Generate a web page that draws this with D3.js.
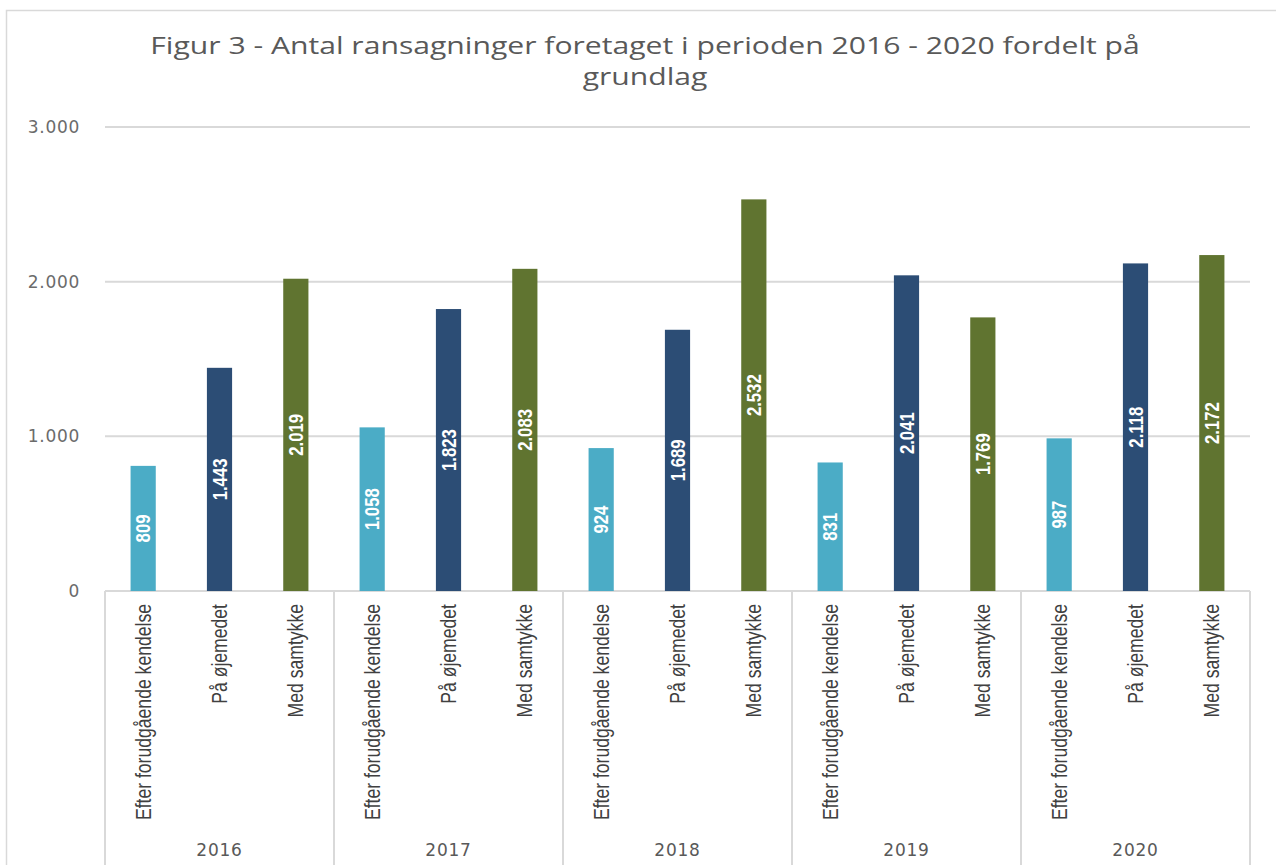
<!DOCTYPE html>
<html>
<head>
<meta charset="utf-8">
<script src="https://cdn.jsdelivr.net/npm/d3@7"></script>
<style>
  body { margin: 0; background: #fff; }
  #vis { width: 1276px; height: 865px; }
  .narrow { font-family: "Liberation Sans Narrow", "Liberation Sans", Arial, sans-serif; }
</style>
</head>
<body>
<div id="vis"></div>
<script>
var years = ['2016', '2017', '2018', '2019', '2020'];
var grounds = ['Efter forudgående kendelse', 'På øjemedet', 'Med samtykke'];
var kendelse = [809, 1058, 924, 831, 987];
var ojemedet = [1443, 1823, 1689, 2041, 2118];
var samtykke = [2019, 2083, 2532, 1769, 2172];
var yTicks = [0, 1000, 2000, 3000];
var colours = ['#4bacc6', '#2c4d75', '#607430'];

var width = 1276, height = 865;

var svg = d3.select('#vis')
  .append('svg')
  .attr('width', width)
  .attr('height', height);

// chart border
svg.append('rect')
  .attr('x', 6.5).attr('y', 10.5)
  .attr('width', 1280).attr('height', 880)
  .attr('fill', 'none')
  .attr('stroke', '#d9d9d9')
  .attr('stroke-width', 1.5);

var x0 = 105, x1 = 1250, yBase = 591, yTop = 127;

var x_scale = d3.scaleBand()
  .domain(years)
  .range([x0, x1])
  .padding(0);

var x_inner = d3.scaleBand()
  .domain(grounds)
  .range([0, x_scale.bandwidth()])
  .paddingInner(0.67)
  .paddingOuter(0.335);

var y_scale = d3.scaleLinear()
  .domain([0, 3000])
  .range([yBase, yTop]);

var fmt = d3.formatLocale({ decimal: ',', thousands: '.', grouping: [3], currency: ['', ' kr.'] }).format(',d');

// gridlines
svg.append('g')
  .selectAll('line')
  .data(yTicks.filter(function(d) { return d > 0; }))
  .enter()
  .append('line')
  .attr('x1', x0).attr('x2', x1)
  .attr('y1', function(d) { return y_scale(d); })
  .attr('y2', function(d) { return y_scale(d); })
  .attr('stroke', '#d9d9d9')
  .attr('stroke-width', 2);

// y tick labels
svg.append('g')
  .selectAll('text')
  .data(yTicks)
  .enter()
  .append('text')
  .attr('x', 80)
  .attr('y', function(d) { return y_scale(d); })
  .attr('dy', '0.35em')
  .attr('text-anchor', 'end')
  .attr('fill', '#6b6b6b')
  .style('font-family', 'DejaVu Sans, sans-serif')
  .style('font-size', '17px')
  .style('letter-spacing', '0.7px')
  .text(function(d) { return fmt(d); });

// category axis
var axisG = svg.append('g');
axisG.append('line')
  .attr('x1', x0).attr('x2', x1)
  .attr('y1', yBase).attr('y2', yBase)
  .attr('stroke', '#d9d9d9').attr('stroke-width', 2);

var bounds = years.map(function(y) { return x_scale(y); }).concat([x1]);
axisG.selectAll('.div')
  .data(bounds)
  .enter()
  .append('line')
  .attr('class', 'div')
  .attr('x1', function(d) { return d; })
  .attr('x2', function(d) { return d; })
  .attr('y1', yBase).attr('y2', 870)
  .attr('stroke', '#d9d9d9').attr('stroke-width', 2);

var rows = [];
years.forEach(function(y, i) {
  rows.push({ year: y, ground: grounds[0], value: kendelse[i], c: 0 });
  rows.push({ year: y, ground: grounds[1], value: ojemedet[i], c: 1 });
  rows.push({ year: y, ground: grounds[2], value: samtykke[i], c: 2 });
});

function cx(d) {
  return x_scale(d.year) + x_inner(d.ground) + x_inner.bandwidth() / 2;
}

// bars
svg.append('g')
  .selectAll('.bar')
  .data(rows)
  .enter()
  .append('rect')
  .attr('class', 'bar')
  .attr('x', function(d) { return x_scale(d.year) + x_inner(d.ground); })
  .attr('width', x_inner.bandwidth())
  .attr('y', function(d) { return y_scale(d.value); })
  .attr('height', function(d) { return yBase - y_scale(d.value); })
  .attr('fill', function(d) { return colours[d.c]; });

// value labels
svg.append('g')
  .selectAll('text')
  .data(rows)
  .enter()
  .append('text')
  .attr('class', 'narrow')
  .attr('transform', function(d) {
    return 'translate(' + cx(d) + ',' + (y_scale(d.value) + yBase) / 2 + ') rotate(-90) scale(0.88,1.08)';
  })
  .attr('text-anchor', 'middle')
  .attr('dy', '0.35em')
  .attr('fill', '#fff')
  .style('font-size', '19px')
  .style('font-weight', 'bold')
  .text(function(d) { return fmt(d.value); });

// ground labels (rotated)
svg.append('g')
  .selectAll('text')
  .data(rows)
  .enter()
  .append('text')
  .attr('class', 'narrow')
  .attr('transform', function(d) {
    return 'translate(' + cx(d) + ',' + 604 + ') rotate(-90) scale(0.88,1.08)';
  })
  .attr('text-anchor', 'end')
  .attr('dy', '0.35em')
  .attr('fill', '#404040')
  .style('font-size', '20px')
  .text(function(d) { return d.ground; });

// year labels
svg.append('g')
  .selectAll('text')
  .data(years)
  .enter()
  .append('text')
  .attr('x', function(d) { return x_scale(d) + x_scale.bandwidth() / 2; })
  .attr('y', 856)
  .attr('text-anchor', 'middle')
  .attr('fill', '#595959')
  .style('font-family', 'DejaVu Sans, sans-serif')
  .style('font-size', '17px')
  .style('letter-spacing', '0.8px')
  .text(function(d) { return d; });

// title (stretched horizontally like the original)
var title = svg.append('text')
  .attr('text-anchor', 'middle')
  .attr('transform', 'translate(645,0) scale(1.31,1)')
  .attr('fill', '#595959')
  .style('font-family', 'Open Sans, sans-serif')
  .style('font-size', '23px');
title.append('tspan').attr('x', 0).attr('y', 54)
  .text('Figur 3 - Antal ransagninger foretaget i perioden 2016 - 2020 fordelt på');
title.append('tspan').attr('x', 0).attr('y', 85)
  .text('grundlag');
</script>
</body>
</html>
